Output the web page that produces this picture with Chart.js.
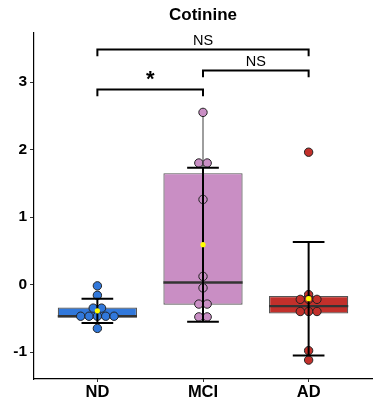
<!DOCTYPE html>
<html>
<head>
<meta charset="utf-8">
<script src="https://cdn.jsdelivr.net/npm/chart.js@4.4.1/dist/chart.umd.min.js"></script>
<style>
  html, body { margin: 0; padding: 0; background: #fff; }
  #wrap { width: 385px; height: 404px; }
</style>
</head>
<body>
<div id="wrap"><canvas id="myChart"></canvas></div>
<script>
const groups = ['ND', 'MCI', 'AD'];
const groupColors = ['#3178db', '#c98ec4', '#c2302b'];

// individual subject values per group
const ndValues = [-0.02, -0.16, -0.35, -0.35, -0.47, -0.47, -0.47, -0.47, -0.47, -0.65];
const mciValues = [2.55, 1.80, 1.80, 1.26, 0.12, -0.05, -0.29, -0.29, -0.48, -0.48];
const adValues = [1.96, -0.15, -0.22, -0.22, -0.22, -0.40, -0.40, -0.40, -0.98, -1.12];

// box statistics
const boxQ1 = [-0.49, -0.30, -0.43];
const boxMedian = [-0.47, 0.03, -0.32];
const boxQ3 = [-0.34, 1.65, -0.17];
const whiskerLow = [-0.49, -0.48, -0.43];
const whiskerHigh = [-0.34, 2.55, -0.15];

// mean +/- SD
const means = [-0.39, 0.59, -0.21];
const sds = [0.18, 1.14, 0.84];

// pairwise comparisons
const pairFrom = [1, 2, 1];
const pairTo = [2, 3, 3];
const pairY = [2.89, 3.17, 3.48];
const pairLabel = ['*', 'NS', 'NS'];

const yTicks = [-1, 0, 1, 2, 3];

const dotStep = 0.079;  // horizontal spacing of stacked dots (x units)
const capHalf = 0.15;   // half width of error bar caps

// stack dots with equal values side by side
const stackDots = (values, center) => {
    const counts = {};
    values.forEach(v => { counts[v] = (counts[v] || 0) + 1; });
    const seen = {};
    return values.map(v => {
        const k = seen[v] || 0;
        seen[v] = k + 1;
        return { x: center + (k - (counts[v] - 1) / 2) * dotStep, y: v };
    });
};

const allValues = [ndValues, mciValues, adValues];

const dotSets = allValues.map((vals, i) => ({
    type: 'scatter',
    label: groups[i],
    data: stackDots(vals, i + 1),
    backgroundColor: groupColors[i],
    borderColor: '#222',
    borderWidth: 1,
    pointRadius: 4.2,
    order: 3
}));

const boxSet = {
    type: 'bar',
    label: 'box',
    data: groups.map((g, i) => ({ x: i + 1, y: [boxQ1[i], boxQ3[i]] })),
    backgroundColor: groupColors,
    borderColor: '#555',
    borderWidth: 1.2,
    borderSkipped: false,
    categoryPercentage: 1,
    barPercentage: 0.75,
    order: 5
};

const meanSet = {
    type: 'scatter',
    label: 'mean',
    data: means.map((m, i) => ({ x: i + 1, y: m })),
    backgroundColor: '#ffff00',
    borderWidth: 0,
    pointRadius: 2.6,
    order: 1
};

// medians and whiskers drawn right after the boxes,
// error bars right before the mean markers, brackets last
const boxExtras = {
    id: 'boxExtras',
    afterDatasetDraw(chart, args) {
        if (args.meta.label !== 'box') return;
        const ctx = chart.ctx;
        const x = chart.scales.x, y = chart.scales.y;
        ctx.save();
        groups.forEach((g, i) => {
            const cx = x.getPixelForValue(i + 1);
            ctx.strokeStyle = '#7f7f7f';
            ctx.lineWidth = 1.5;
            ctx.beginPath();
            ctx.moveTo(cx, y.getPixelForValue(boxQ3[i]));
            ctx.lineTo(cx, y.getPixelForValue(whiskerHigh[i]));
            ctx.moveTo(cx, y.getPixelForValue(boxQ1[i]));
            ctx.lineTo(cx, y.getPixelForValue(whiskerLow[i]));
            ctx.stroke();
            ctx.strokeStyle = '#333';
            ctx.lineWidth = 2.4;
            ctx.beginPath();
            ctx.moveTo(x.getPixelForValue(i + 1 - 0.375), y.getPixelForValue(boxMedian[i]));
            ctx.lineTo(x.getPixelForValue(i + 1 + 0.375), y.getPixelForValue(boxMedian[i]));
            ctx.stroke();
        });
        ctx.restore();
    },
    beforeDatasetDraw(chart, args) {
        if (args.meta.label !== 'mean') return;
        const ctx = chart.ctx;
        const x = chart.scales.x, y = chart.scales.y;
        ctx.save();
        ctx.strokeStyle = '#000';
        ctx.lineWidth = 2;
        groups.forEach((g, i) => {
            const cx = x.getPixelForValue(i + 1);
            const lo = y.getPixelForValue(means[i] - sds[i]);
            const hi = y.getPixelForValue(means[i] + sds[i]);
            const l = x.getPixelForValue(i + 1 - capHalf), r = x.getPixelForValue(i + 1 + capHalf);
            ctx.beginPath();
            ctx.moveTo(cx, lo); ctx.lineTo(cx, hi);
            ctx.moveTo(l, lo); ctx.lineTo(r, lo);
            ctx.moveTo(l, hi); ctx.lineTo(r, hi);
            ctx.stroke();
        });
        ctx.restore();
    },
    afterDraw(chart) {
        const ctx = chart.ctx;
        const x = chart.scales.x, y = chart.scales.y;
        ctx.save();
        ctx.strokeStyle = '#000';
        ctx.fillStyle = '#000';
        ctx.lineWidth = 2;
        ctx.textAlign = 'center';
        ctx.textBaseline = 'alphabetic';
        pairLabel.forEach((lab, i) => {
            const x1 = x.getPixelForValue(pairFrom[i]);
            const x2 = x.getPixelForValue(pairTo[i]);
            const yy = y.getPixelForValue(pairY[i]);
            const yd = y.getPixelForValue(pairY[i] - 0.1);
            ctx.beginPath();
            ctx.moveTo(x1, yd); ctx.lineTo(x1, yy); ctx.lineTo(x2, yy); ctx.lineTo(x2, yd);
            ctx.stroke();
            if (lab === '*') {
                ctx.font = 'bold 22px "Liberation Sans", Arial, sans-serif';
                ctx.fillText(lab, (x1 + x2) / 2, yy - 3);
            } else {
                ctx.font = '14.5px "Liberation Sans", Arial, sans-serif';
                ctx.fillText(lab, (x1 + x2) / 2, yy - 4.5);
            }
        });
        ctx.restore();
    }
};

const fontFamily = '"Liberation Sans", Arial, sans-serif';

new Chart(document.querySelector('#myChart').getContext('2d'), {
    data: {
        datasets: [boxSet, ...dotSets, meanSet]
    },
    options: {
        responsive: true,
        maintainAspectRatio: false,
        animation: false,
        layout: { padding: { left: 0, right: 13, top: 0, bottom: 0 } },
        plugins: {
            legend: { display: false },
            tooltip: { enabled: false },
            title: {
                display: true,
                text: 'Cotinine',
                fullSize: false,
                color: '#000',
                font: { family: fontFamily, size: 17, weight: 'bold' },
                padding: { top: 5, bottom: 7.6 }
            }
        },
        scales: {
            x: {
                type: 'linear',
                offset: false,
                min: 0.4,
                max: 3.6,
                afterBuildTicks: s => { s.ticks = groups.map((g, i) => ({ value: i + 1 })); },
                afterFit: s => { s.height = 25; },
                ticks: {
                    callback: v => groups[v - 1],
                    color: '#000',
                    font: { family: fontFamily, size: 16.5, weight: 'bold' },
                    padding: 1,
                    maxRotation: 0
                },
                grid: { offset: false, drawOnChartArea: false, drawTicks: true, tickLength: 3, color: '#333' },
                border: { display: true, color: '#000', width: 1.2 }
            },
            y: {
                min: -1.40,
                max: 3.726,
                afterBuildTicks: s => { s.ticks = yTicks.map(v => ({ value: v })); },
                afterFit: s => { s.width = 34; },
                ticks: {
                    callback: v => String(v),
                    color: '#000',
                    font: { family: fontFamily, size: 15.5, weight: 'bold' },
                    padding: 3
                },
                grid: { drawOnChartArea: false, drawTicks: true, tickLength: 4, color: '#333' },
                border: { display: true, color: '#000', width: 1.2 }
            }
        }
    },
    plugins: [boxExtras]
});
</script>
</body>
</html>
